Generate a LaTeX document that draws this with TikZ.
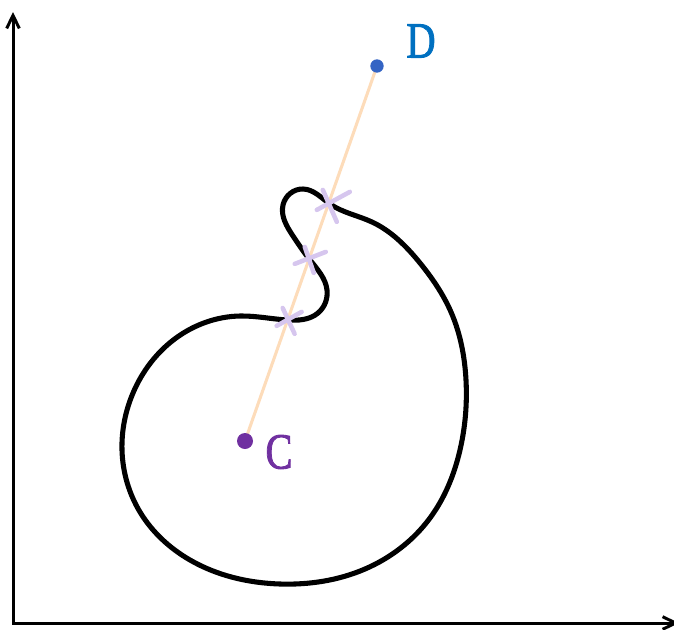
\documentclass[tikz,border=0pt]{standalone}
\usepackage{fontspec}
\setmainfont{Liberation Serif}
\newfontface\lblfont[FakeBold=1.8]{Liberation Serif}
\usetikzlibrary{arrows.meta,calc,hobby}
\definecolor{cpurple}{HTML}{7030A0}
\definecolor{dblue}{HTML}{0070C0}
\definecolor{dotblue}{HTML}{3464C4}
\definecolor{peach}{HTML}{FDDCBA}
\definecolor{lav}{HTML}{D6C6EE}
\tikzset{
  axisline/.style={line width=2.25pt, {Straight Barb[length=9.75pt,width=9.5pt]}-{Straight Barb[length=9.75pt,width=9.5pt]}},
  blob/.style={line width=3.8pt, line join=round},
  dotnode/.style={circle, inner sep=0pt, minimum size=#1},
  lbl/.style={font=\lblfont\fontsize{38}{38}\selectfont, inner sep=0pt},
  crossline/.style={lav, line width=3.4pt, line cap=round},
  segline/.style={peach, line width=2.3pt}
}
\begin{document}
\begin{tikzpicture}[x=0.75pt,y=-0.75pt]
\useasboundingbox (0,0) rectangle (674,629);
\clip (0,0) rectangle (674,629);
% axes
\coordinate (ytip) at (13,12);
\coordinate (orig) at (13,623);
\coordinate (xtip) at (679,623);
\draw[axisline] (ytip) -- (orig) -- (xtip);
% closed curve
\draw[blob, use Hobby shortcut, closed=true]
 (287,320) .. (240,316) .. (176,338) .. (133,393) .. (122,450) .. (140,512)
 .. (190,560) .. (280,584) .. (365,569) .. (430,518) .. (460,450)
 .. (466,380) .. (451,312) .. (420,263) .. (372,222) .. (330,204)
 .. (303,189) .. (283,205) .. (293,236) .. (310,260) .. (327,290)
 .. (318,313);
% points C and D
\coordinate (C) at (245,441);
\coordinate (D) at (377,66);
\draw[segline] (C) -- (D);
\node[dotnode=12pt, fill=cpurple] (Cdot) at (C) {};
\node[dotnode=10pt, fill=dotblue] (Ddot) at (D) {};
\node[lbl, text=cpurple] (Clbl) at (279,452) {\scalebox{0.8}[1]{C}};
\node[lbl, text=dblue] (Dlbl) at (421,41) {\scalebox{0.8}[1]{D}};
% crosses
\coordinate (X1) at ($(C)!0.635!(D)$);
\coordinate (X2) at ($(C)!0.483!(D)$);
\coordinate (X3) at ($(C)!0.323!(D)$);
\draw[crossline] ($(X1)+(-12,7)$) -- ($(X1)+(21,-11)$);
\draw[crossline] ($(X1)+(-6,-13)$) -- ($(X1)+(8,19)$);
\draw[crossline] ($(X2)+(-14,4)$) -- ($(X2)+(17,-8)$);
\draw[crossline] ($(X2)+(-4,-13)$) -- ($(X2)+(5,13)$);
\draw[crossline] ($(X3)+(-11,6)$) -- ($(X3)+(14,-8)$);
\draw[crossline] ($(X3)+(-5,-12)$) -- ($(X3)+(7,14)$);
\end{tikzpicture}
\end{document}
